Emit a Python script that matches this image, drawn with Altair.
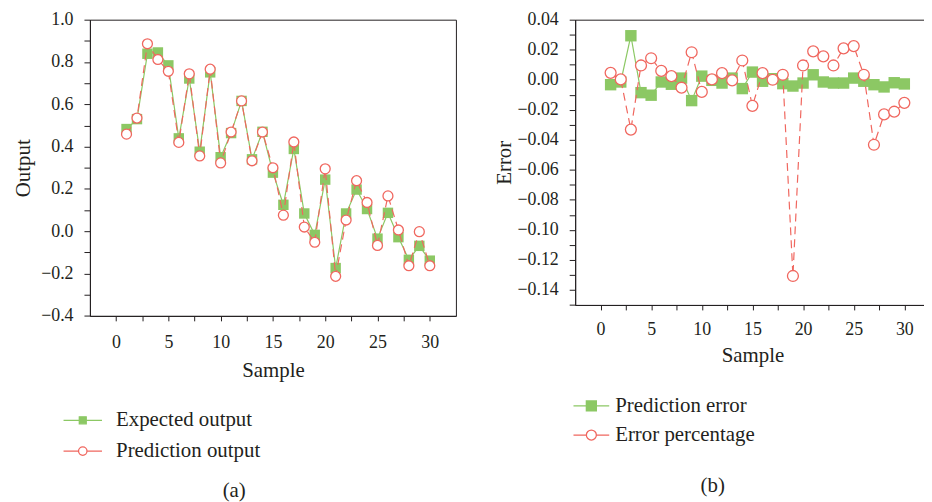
import altair as alt
import pandas as pd

# ---------------- data ----------------
samples = list(range(1, 31))
expected_output = [0.483, 0.530, 0.839, 0.845, 0.784, 0.439, 0.722, 0.376, 0.751, 0.350,
                   0.464, 0.616, 0.340, 0.470, 0.277, 0.125, 0.389, 0.084, -0.017, 0.244,
                   -0.174, 0.084, 0.197, 0.105, -0.035, 0.087, -0.028, -0.135, -0.069, -0.139]
prediction_output = [0.459, 0.535, 0.886, 0.812, 0.756, 0.420, 0.744, 0.356, 0.766, 0.323,
                     0.469, 0.616, 0.333, 0.469, 0.300, 0.076, 0.422, 0.020, -0.052, 0.295,
                     -0.213, 0.053, 0.239, 0.136, -0.067, 0.167, 0.006, -0.163, -0.002, -0.163]
prediction_error = [-0.0033, -0.0015, 0.0293, -0.0086, -0.0103, -0.0015, -0.0030, 0.0011, -0.0139, 0.0024,
                    -0.0004, -0.0022, 0.0011, -0.0059, 0.0051, -0.0010, 0.0007, -0.0026, -0.0042, -0.0022,
                    0.0033, -0.0015, -0.0022, -0.0022, 0.0011, -0.0010, -0.0033, -0.0048, -0.0020, -0.0028]
error_percentage = [0.0046, 0.0002, -0.0332, 0.0095, 0.0143, 0.0059, 0.0024, -0.0053, 0.0183, -0.0081,
                    0.0002, 0.0044, -0.0004, 0.0128, -0.0174, 0.0044, 0.0000, 0.0033, -0.1307, 0.0095,
                    0.0189, 0.0156, 0.0095, 0.0209, 0.0224, 0.0033, -0.0433, -0.0231, -0.0213, -0.0154]

legend_a = ["Expected output", "Prediction output"]
legend_b = ["Prediction error", "Error percentage"]

x_ticks = [v * 2.5 for v in range(0, 13)]        # 0 .. 30
ya_ticks = [round(-0.4 + 0.1 * i, 2) for i in range(0, 15)]
yb_ticks = [round(-0.15 + 0.01 * i, 2) for i in range(0, 20)]

# ---------------- style ----------------
GREEN = "#8cc864"
RED = "#f0675f"
TEXT = "#231f20"
FONT = "Liberation Serif"

df_a = pd.DataFrame({"Sample": samples, "expected": expected_output, "predicted": prediction_output})
df_b = pd.DataFrame({"Sample": samples, "perr": prediction_error, "epct": error_percentage})


def panel(df, f1, f2, xdom, ydom, yticks, yfmt, ylabel_expr, ytitle, names, w, h,
          sq_size, ci_size, legend_x, legend_y, sym_size, half_sq, rad,
          label_offset, row_pad, caption, cap_dx, cap_off, ytitle_pad, xlab_pad, xtitle_pad):
    xs = alt.Scale(domain=xdom, nice=False, zero=False)
    ys = alt.Scale(domain=ydom, nice=False, zero=False)
    x_axis = alt.Axis(orient="bottom", values=x_ticks, format=".0f",
                      labelExpr="datum.value % 5 === 0 ? datum.label : ''",
                      tickSize=5, labelPadding=xlab_pad, title="Sample", titlePadding=xtitle_pad,
                      grid=False)
    y_axis = alt.Axis(orient="left", values=yticks, format=yfmt, labelExpr=ylabel_expr,
                      tickSize=6, labelPadding=11, title=ytitle, titlePadding=ytitle_pad,
                      grid=False)

    base = alt.Chart(df)
    # every layer carries the same axis definition, so the shared axes merge cleanly
    line1 = base.mark_line(color=GREEN, strokeWidth=1.2).encode(
        x=alt.X("Sample:Q", scale=xs, axis=x_axis),
        y=alt.Y(f"{f1}:Q", scale=ys, axis=y_axis),
    )
    pts1 = base.mark_point(shape="square", filled=True, color=GREEN, size=sq_size, opacity=1).encode(
        x=alt.X("Sample:Q", scale=xs, axis=x_axis),
        y=alt.Y(f"{f1}:Q", scale=ys, axis=y_axis),
    )
    line2 = base.mark_line(color=RED, strokeWidth=1.2, strokeDash=[8, 5]).encode(
        x=alt.X("Sample:Q", scale=xs, axis=x_axis),
        y=alt.Y(f"{f2}:Q", scale=ys, axis=y_axis),
    )
    pts2 = base.mark_point(shape="circle", filled=True, fill="white", stroke=RED, strokeWidth=1.3,
                           size=ci_size, opacity=1).encode(
        x=alt.X("Sample:Q", scale=xs, axis=x_axis),
        y=alt.Y(f"{f2}:Q", scale=ys, axis=y_axis),
    )
    s = half_sq
    r = rad
    path_sq = f"M-1,0H-{s}M{s},0H1M-{s},-{s}H{s}V{s}H-{s}Z"
    path_ci = f"M-1,0H-{r}M{r},0H1M{r},0A{r},{r},0,1,1,-{r},0A{r},{r},0,1,1,{r},0Z"
    leg = alt.Legend(orient="none", legendX=legend_x, legendY=legend_y, title=None,
                     symbolSize=sym_size, symbolStrokeWidth=1.3, labelFont=FONT,
                     labelFontSize=21, labelColor=TEXT, labelOffset=label_offset,
                     rowPadding=row_pad, padding=0)
    legend_layer = base.mark_point(filled=True, opacity=1).encode(
        shape=alt.Shape("series:N", scale=alt.Scale(domain=names, range=[path_sq, path_ci]), legend=leg),
        fill=alt.Fill("series:N", scale=alt.Scale(domain=names, range=[GREEN, "white"]), legend=leg),
        stroke=alt.Stroke("series:N", scale=alt.Scale(domain=names, range=[GREEN, RED]), legend=leg),
    ).transform_filter("datum.Sample > 1000")

    view = alt.ViewBackground(stroke=TEXT, strokeWidth=1)
    ch = alt.layer(line1, pts1, line2, pts2, legend_layer).properties(
        width=w, height=h, view=view,
        title=alt.TitleParams(caption, orient="bottom", fontSize=21, font=FONT, fontWeight="normal",
                              color=TEXT, offset=cap_off, dx=cap_dx),
    )
    return ch


WA, HA = 368.6, 298.3
WB, HB = 357, 287.3

left = panel(df_a, "expected", "predicted", [-2.5, 32.5], [-0.4, 1.0], ya_ticks, ".1f",
             "abs(round(datum.value*10)) % 2 === 0 ? datum.label : ''",
             "Output", legend_a, WA, HA, 110, 100, -27.7, 383, 1500, 0.18, 0.22,
             13, 0, "(a)", -39, 19, 7, 13, 8)
# right panel: its right edge runs past the page edge, as in the reference
right = panel(df_b, "perr", "epct", [-2.5, 32.5], [-0.15, 0.04], yb_ticks, ".2f",
              "abs(round(datum.value*100)) % 2 === 0 ? datum.label : ''",
              "Error", legend_b, WB, HB, 132, 121, -2.7, 370, 1296, 0.28, 0.28,
              5, 0.3, "(b)", -40, 30, 2, 11, 6)

chart = alt.hconcat(left, right, spacing=119.7, bounds="flush").resolve_scale(
    x="independent", y="independent", shape="independent", fill="independent", stroke="independent"
).properties(
    padding={"left": 3.5, "top": 0, "right": -7, "bottom": 0},
    background="white",
).configure_axis(
    labelFont=FONT, titleFont=FONT, labelFontSize=18, titleFontSize=21, titleFontWeight="normal",
    labelColor=TEXT, titleColor=TEXT, domainColor=TEXT, tickColor=TEXT,
    domainWidth=1, tickWidth=1,
)

chart.save("out.html", embed_options={"renderer": "svg", "actions": False})
